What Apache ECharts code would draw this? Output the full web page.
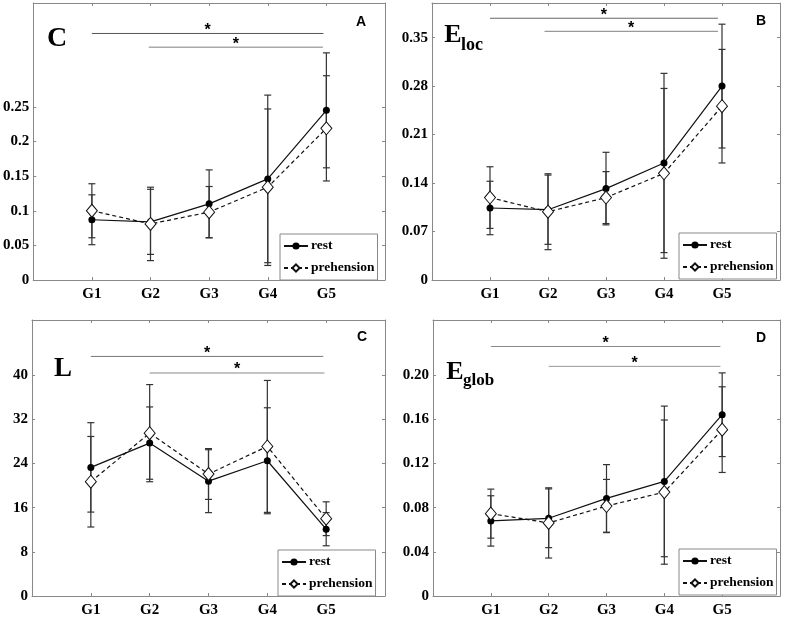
<!DOCTYPE html>
<html><head><meta charset="utf-8">
<script src="https://cdn.jsdelivr.net/npm/echarts@6/dist/echarts.min.js"></script>
<style>html,body{margin:0;padding:0;background:#fff}#c{width:787px;height:618px}</style>
</head><body><div id="c"></div><script>
// ---------- data ----------
const groups = ['G1', 'G2', 'G3', 'G4', 'G5'];
const groupX = [1, 2, 3, 4, 5];

// Panel A : clustering coefficient C
const cRest = [0.087, 0.084, 0.110, 0.146, 0.245];
const cRestErr = [0.036, 0.047, 0.049, 0.121, 0.083];
const cPre = [0.100, 0.081, 0.098, 0.134, 0.219];
const cPreErr = [0.039, 0.053, 0.037, 0.113, 0.076];
const cTicks = [0, 0.05, 0.1, 0.15, 0.2, 0.25];
const cTickLabels = ['0', '0.05', '0.1', '0.15', '0.2', '0.25'];
const cSig = [[1, 4.95, 0.356], [1.97, 4.94, 0.336]];

// Panel B : local efficiency Eloc
const elocRest = [0.104, 0.1015, 0.132, 0.169, 0.280];
const elocRestErr = [0.0386, 0.050, 0.0524, 0.1294, 0.0894];
const elocPre = [0.119, 0.0986, 0.119, 0.154, 0.251];
const elocPreErr = [0.0445, 0.0548, 0.0375, 0.1226, 0.082];
const elocTicks = [0, 0.07, 0.14, 0.21, 0.28, 0.35];
const elocTickLabels = ['0', '0.07', '0.14', '0.21', '0.28', '0.35'];
const elocSig = [[1, 4.93, 0.378], [1.94, 4.93, 0.359]];

// Panel C : path length L
const lRest = [23.3, 27.7, 20.8, 24.5, 12.1];
const lRestErr = [8.1, 6.55, 5.7, 9.6, 3.0];
const lPre = [20.7, 29.5, 22.1, 27.1, 14.0];
const lPreErr = [8.2, 8.8, 4.6, 11.95, 3.06];
const lTicks = [0, 8, 16, 24, 32, 40];
const lTickLabels = ['0', '8', '16', '24', '32', '40'];
const lSig = [[1, 4.95, 43.4], [2, 4.97, 40.4]];

// Panel D : global efficiency Eglob
const gRest = [0.068, 0.0704, 0.0884, 0.1038, 0.1642];
const gRestErr = [0.0228, 0.0266, 0.0306, 0.0682, 0.0379];
const gPre = [0.0746, 0.0662, 0.0815, 0.0941, 0.1507];
const gPreErr = [0.0222, 0.0318, 0.0241, 0.0653, 0.0388];
const gTicks = [0, 0.04, 0.08, 0.12, 0.16, 0.20];
const gTickLabels = ['0', '0.04', '0.08', '0.12', '0.16', '0.20'];
const gSig = [[1, 4.97, 0.226], [2, 4.97, 0.208]];

const yMaxes = [0.4, 0.4, 50, 0.25];

// ---------- layout / style ----------
const panels = [
  {rest: cRest, restErr: cRestErr, pre: cPre, preErr: cPreErr, ticks: cTicks, labels: cTickLabels, sig: cSig, yMax: yMaxes[0]},
  {rest: elocRest, restErr: elocRestErr, pre: elocPre, preErr: elocPreErr, ticks: elocTicks, labels: elocTickLabels, sig: elocSig, yMax: yMaxes[1]},
  {rest: lRest, restErr: lRestErr, pre: lPre, preErr: lPreErr, ticks: lTicks, labels: lTickLabels, sig: lSig, yMax: yMaxes[2]},
  {rest: gRest, restErr: gRestErr, pre: gPre, preErr: gPreErr, ticks: gTicks, labels: gTickLabels, sig: gSig, yMax: yMaxes[3]}
];
const gridBoxes = [
  {left: 32, top: 3, width: 353, height: 277},
  {left: 432, top: 3, width: 348, height: 277},
  {left: 32, top: 320, width: 353, height: 276},
  {left: 433, top: 320, width: 347, height: 276}
];
const legendPos = [[280, 234], [679, 233], [278, 550], [679, 549]];
const sigColors = [['#555', '#aaa'], ['#666', '#999'], ['#777', '#888'], ['#888', '#999']];
const sigWidths = [[1, 1.6], [1, 1.4], [1, 1], [1, 1]];

const AXIS_COLOR = '#888';
const SERIF = '"Liberation Serif", "Times New Roman", serif';
const labelFont = {fontFamily: SERIF, fontWeight: 'bold', fontSize: 15, color: '#000'};

const grid = [], xAxis = [], yAxis = [], series = [], legend = [];

function errRender(params, api) {
  const x = api.value(0);
  const p1 = api.coord([x, api.value(1)]);
  const p2 = api.coord([x, api.value(2)]);
  const hw = 3.5;
  const st = {stroke: '#333', lineWidth: 1.2};
  return {type: 'group', children: [
    {type: 'line', shape: {x1: p1[0], y1: p1[1], x2: p2[0], y2: p2[1]}, style: st},
    {type: 'line', shape: {x1: p1[0] - hw, y1: p1[1], x2: p1[0] + hw, y2: p1[1]}, style: st},
    {type: 'line', shape: {x1: p2[0] - hw, y1: p2[1], x2: p2[0] + hw, y2: p2[1]}, style: st}
  ]};
}

panels.forEach((p, i) => {
  grid.push(Object.assign({show: false}, gridBoxes[i]));
  const fmt = v => {
    const k = p.ticks.findIndex(t => Math.abs(t - v) < 1e-9);
    return k >= 0 ? p.labels[k] : '';
  };
  xAxis.push({
    type: 'value', gridIndex: i, min: 0, max: 6, position: 'bottom',
    axisLine: {show: true, onZero: false, lineStyle: {color: AXIS_COLOR, width: 1}},
    axisTick: {show: true, inside: true, length: 3, customValues: groupX, lineStyle: {color: AXIS_COLOR}},
    axisLabel: Object.assign({show: true, margin: 7, customValues: groupX,
      formatter: v => groups[Math.round(v) - 1] || ''}, labelFont),
    splitLine: {show: false}
  });
  xAxis.push({
    type: 'value', gridIndex: i, min: 0, max: 6, position: 'top',
    axisLine: {show: true, onZero: false, lineStyle: {color: AXIS_COLOR, width: 1}},
    axisTick: {show: true, inside: true, length: 3, customValues: groupX, lineStyle: {color: AXIS_COLOR}},
    axisLabel: {show: false}, splitLine: {show: false}
  });
  yAxis.push({
    type: 'value', gridIndex: i, min: 0, max: p.yMax, position: 'left',
    axisLine: {show: true, onZero: false, lineStyle: {color: AXIS_COLOR, width: 1}},
    axisTick: {show: true, inside: true, length: 3, customValues: p.ticks, lineStyle: {color: AXIS_COLOR}},
    axisLabel: Object.assign({show: true, margin: 4, customValues: p.ticks, formatter: fmt}, labelFont),
    splitLine: {show: false}
  });
  yAxis.push({
    type: 'value', gridIndex: i, min: 0, max: p.yMax, position: 'right',
    axisLine: {show: true, onZero: false, lineStyle: {color: AXIS_COLOR, width: 1}},
    axisTick: {show: true, inside: true, length: 3, customValues: p.ticks, lineStyle: {color: AXIS_COLOR}},
    axisLabel: {show: false}, splitLine: {show: false}
  });
  const xi = 2 * i, yi = 2 * i;
  series.push({
    type: 'custom', xAxisIndex: xi, yAxisIndex: yi, silent: true, z: 1,
    encode: {x: 0, y: [1, 2]},
    data: groupX.map((x, j) => [x, p.rest[j] - p.restErr[j], p.rest[j] + p.restErr[j]]),
    renderItem: errRender
  });
  series.push({
    type: 'custom', xAxisIndex: xi, yAxisIndex: yi, silent: true, z: 1,
    encode: {x: 0, y: [1, 2]},
    data: groupX.map((x, j) => [x, p.pre[j] - p.preErr[j], p.pre[j] + p.preErr[j]]),
    renderItem: errRender
  });
  series.push({
    name: 'rest', type: 'line', xAxisIndex: xi, yAxisIndex: yi, z: 3,
    data: groupX.map((x, j) => [x, p.rest[j]]),
    symbol: 'circle', symbolSize: 7, showAllSymbol: true,
    itemStyle: {color: '#000', borderColor: '#000', borderWidth: 0},
    lineStyle: {color: '#111', width: 1.2, type: 'solid'}
  });
  series.push({
    name: 'prehension', type: 'line', xAxisIndex: xi, yAxisIndex: yi, z: 4,
    data: groupX.map((x, j) => [x, p.pre[j]]),
    symbol: 'diamond', symbolSize: [11, 13], showAllSymbol: true,
    itemStyle: {color: '#fff', borderColor: '#111', borderWidth: 1},
    lineStyle: {color: '#111', width: 1.2, type: [4, 3]}
  });
  series.push({
    type: 'custom', xAxisIndex: xi, yAxisIndex: yi, silent: true, z: 2,
    encode: {x: [0, 1], y: 2},
    data: p.sig,
    renderItem: (params, api) => {
      const a = api.coord([api.value(0), api.value(2)]);
      const b = api.coord([api.value(1), api.value(2)]);
      const k = params.dataIndex;
      return {type: 'group', children: [
        {type: 'line', shape: {x1: a[0], y1: a[1], x2: b[0], y2: b[1]},
          style: {stroke: sigColors[i][k], lineWidth: sigWidths[i][k]}},
        {type: 'text', x: (a[0] + b[0]) / 2, y: a[1] - 3,
          style: {text: '*', fill: '#000', font: 'bold 16px "Liberation Sans", Arial, sans-serif',
            align: 'center', verticalAlign: 'middle'}}
      ]};
    }
  });
  legend.push({
    data: ['rest', 'prehension'], orient: 'vertical',
    left: legendPos[i][0], top: legendPos[i][1],
    itemWidth: 24, itemHeight: 9, itemGap: 8,
    padding: [5, 3, 5, 3],
    backgroundColor: '#fff', borderColor: AXIS_COLOR, borderWidth: 1, borderRadius: 0,
    selectedMode: false,
    textStyle: {fontFamily: SERIF, fontWeight: 'bold', fontSize: 13.5, color: '#000', padding: [0, 0, 0, -2]}
  });
});

const bigFont = 'bold 28px ' + SERIF;
const letterFont = 'bold 14px "Liberation Sans", Arial, sans-serif';
const txt = (x, y, text, font, align) => ({
  type: 'text', x: x, y: y, z: 100,
  style: {text: text, font: font, fill: '#000', align: align || 'center', verticalAlign: 'middle'}
});
const graphic = [
  txt(57, 38.5, 'C', bigFont),
  txt(453, 35, 'E', 'bold 26px ' + SERIF),
  txt(461, 45, 'loc', 'bold 18px ' + SERIF, 'left'),
  txt(63, 369.5, 'L', 'bold 27px ' + SERIF),
  txt(455, 372.5, 'E', 'bold 26px ' + SERIF),
  txt(463, 380.5, 'glob', 'bold 17px ' + SERIF, 'left'),
  txt(361, 22, 'A', letterFont),
  txt(761, 21, 'B', letterFont),
  txt(362, 337, 'C', letterFont),
  txt(761, 338, 'D', letterFont)
];

const chart = echarts.init(document.getElementById('c'), null, {renderer: 'canvas'});
chart.setOption({
  animation: false,
  backgroundColor: '#fff',
  grid: grid, xAxis: xAxis, yAxis: yAxis, series: series, legend: legend, graphic: graphic
});
</script></body></html>
